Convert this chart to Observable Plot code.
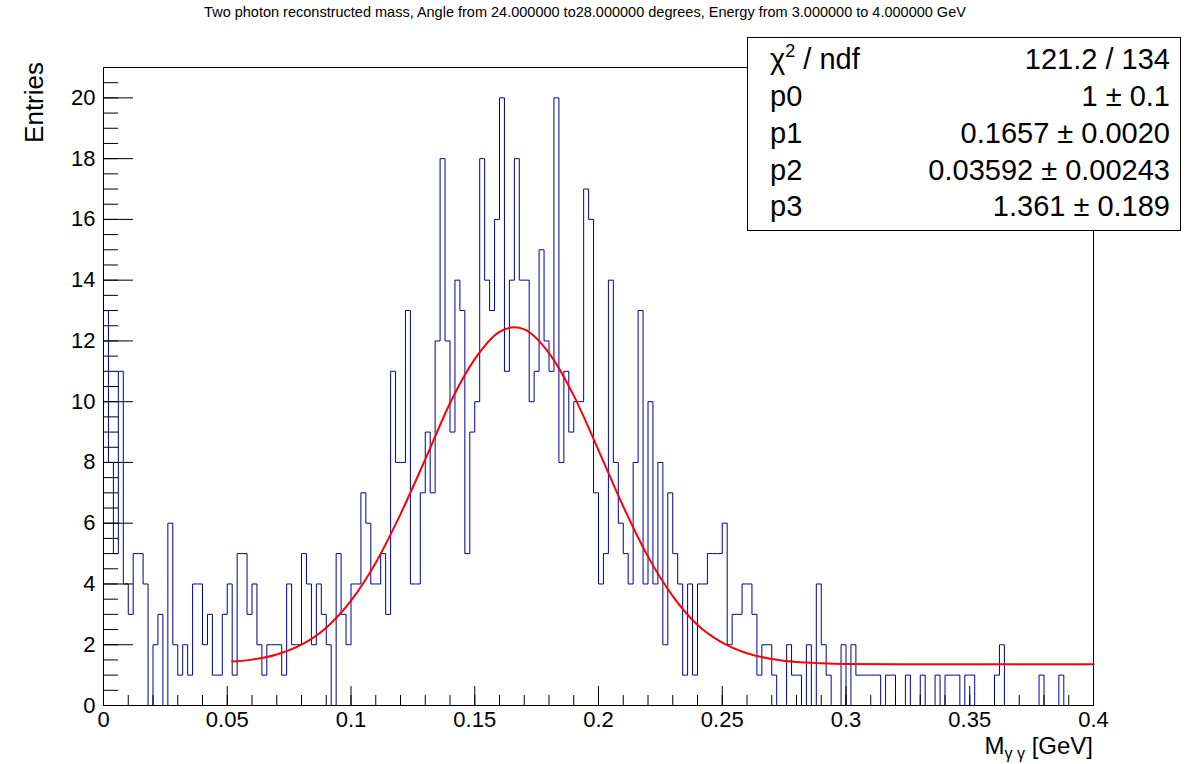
<!DOCTYPE html>
<html>
<head>
<meta charset="utf-8">
<script src="https://cdn.jsdelivr.net/npm/d3@7"></script>
<script src="https://cdn.jsdelivr.net/npm/@observablehq/plot@0.6"></script>
<style>
  html, body { margin: 0; padding: 0; background: #fff; }
  #chart { width: 1202px; height: 764px; }
  svg { display: block; }
</style>
</head>
<body>
<div id="chart"></div>
<script>
// ---- Data ----
const titleText = "Two photon reconstructed mass, Angle from 24.000000 to28.000000 degrees, Energy from 3.000000 to 4.000000 GeV";
const xAxisName = "M";
const xAxisSub = "γ γ";
const xAxisUnit = " [GeV]";
const yAxisName = "Entries";

// histogram: 200 bins of width 0.002 GeV from 0 to 0.4
const binStart = 0;
const binWidth = 0.002;
const counts = [
  13, 8, 5, 11, 4, 3, 5, 5, 4, 0,
  2, 3, 0, 6, 2, 1, 2, 1, 4, 4,
  2, 3, 1, 1, 3, 4, 1, 5, 5, 3,
  4, 2, 1, 2, 2, 2, 1, 4, 2, 2,
  5, 4, 2, 4, 3, 2, 0, 5, 3, 2,
  4, 4, 7, 6, 4, 4, 5, 3, 11, 8,
  8, 13, 4, 4, 7, 9, 7, 12, 18, 12,
  9, 14, 13, 5, 9, 10, 18, 14, 13, 16,
  20, 11, 14, 18, 14, 14, 10, 11, 15, 12,
  11, 20, 8, 11, 9, 10, 10, 17, 16, 7,
  4, 5, 14, 8, 6, 5, 4, 8, 13, 4,
  10, 4, 8, 2, 7, 5, 4, 1, 4, 1,
  4, 4, 5, 5, 5, 6, 2, 3, 3, 4,
  4, 3, 1, 2, 2, 1, 0, 0, 2, 1,
  1, 0, 2, 0, 4, 2, 1, 0, 0, 2,
  0, 2, 1, 1, 1, 1, 1, 0, 1, 1,
  0, 0, 1, 0, 0, 1, 0, 0, 1, 0,
  1, 1, 1, 0, 1, 1, 0, 0, 0, 0,
  1, 2, 0, 0, 0, 0, 0, 0, 0, 1,
  0, 0, 0, 1, 0, 0, 0, 0, 0, 0
];

// fitted curve
const fitX = [0.052, 0.06, 0.07, 0.08, 0.09, 0.10, 0.11, 0.12, 0.13, 0.14, 0.15, 0.16, 0.166, 0.17, 0.18, 0.19, 0.20, 0.21, 0.22, 0.23, 0.24, 0.25, 0.26, 0.27, 0.28, 0.29, 0.30, 0.32, 0.35, 0.40];
const fitY = [1.45, 1.51, 1.68, 2.0, 2.56, 3.45, 4.7, 6.3, 8.1, 9.95, 11.4, 12.3, 12.45, 12.38, 11.6, 10.2, 8.4, 6.55, 4.9, 3.6, 2.65, 2.07, 1.72, 1.53, 1.43, 1.39, 1.37, 1.36, 1.36, 1.36];

// tick labels
const xMajor = [0, 0.05, 0.1, 0.15, 0.2, 0.25, 0.3, 0.35, 0.4];
const xMajorLabels = ["0", "0.05", "0.1", "0.15", "0.2", "0.25", "0.3", "0.35", "0.4"];
const yMajor = [0, 2, 4, 6, 8, 10, 12, 14, 16, 18, 20];
const xMinorStep = 0.01;
const yMinorStep = 0.5;

// stats box
const statNames = ["p0", "p1", "p2", "p3"];
const statValues = ["1 ± 0.1", "0.1657 ± 0.0020", "0.03592 ± 0.00243", "1.361 ± 0.189"];
const chi2Value = "121.2 / 134";

// ---- Build tables ----
const nBins = counts.length;
const steps = [{x: binStart, y: 0}];
counts.forEach((c, i) => {
  steps.push({x: binStart + i * binWidth, y: c});
  steps.push({x: binStart + (i + 1) * binWidth, y: c});
});
steps.push({x: binStart + nBins * binWidth, y: 0});
const fit = fitX.map((x, i) => ({x, y: fitY[i]}));
const xMinor = d3.range(0, 40.5).map(i => i * xMinorStep);
const yMinor = d3.range(0, 42).map(i => i * yMinorStep);

const W = 1202, H = 764;
const mL = 103, mR = 109, mT = 67, mB = 59;
const fw = W - mL - mR, fh = H - mT - mB;
const font = "'Liberation Sans', Arial, Helvetica, sans-serif";

const chart = Plot.plot({
  width: W, height: H,
  marginLeft: mL, marginRight: mR, marginTop: mT, marginBottom: mB,
  style: {fontFamily: font, background: "#fff", color: "#000"},
  x: {domain: [0, 0.4]},
  y: {domain: [0, 21]},
  marks: [
    Plot.line(steps, {x: "x", y: "y", stroke: "#000099", strokeWidth: 1}),
    Plot.line(fit, {x: "x", y: "y", stroke: "#ff0000", strokeWidth: 2, curve: "monotone-x"}),
    Plot.tickX(xMinor, {x: d => d, insetTop: fh - 10, stroke: "#000"}),
    Plot.tickX(xMajor, {x: d => d, insetTop: fh - 19, stroke: "#000"}),
    Plot.tickY(yMinor, {y: d => d, insetRight: fw - 15, stroke: "#000"}),
    Plot.tickY(yMajor, {y: d => d, insetRight: fw - 30, stroke: "#000"}),
    Plot.axisX(xMajor, {tickSize: 0, tickPadding: 6, fontSize: 22, tickFormat: (d, i) => xMajorLabels[i], label: null}),
    Plot.axisY(yMajor, {tickSize: 0, tickPadding: 8, fontSize: 22, label: null}),
    Plot.frame({stroke: "#000"})
  ]
});
document.getElementById("chart").appendChild(chart);

// ---- Annotations (real SVG text) ----
const svg = d3.select(chart);
svg.append("text")
  .attr("x", 585).attr("y", 17)
  .attr("text-anchor", "middle")
  .attr("font-family", font).attr("font-size", 14.5).attr("fill", "#000")
  .text(titleText);

svg.append("text")
  .attr("transform", "translate(43,62) rotate(-90)")
  .attr("text-anchor", "end")
  .attr("font-family", font).attr("font-size", 26).attr("fill", "#000")
  .text(yAxisName);

const xl = svg.append("text")
  .attr("x", 1093).attr("y", 754)
  .attr("text-anchor", "end")
  .attr("font-family", font).attr("font-size", 24).attr("fill", "#000");
xl.append("tspan").text(xAxisName);
xl.append("tspan").attr("font-size", 16).attr("dy", 5).text(xAxisSub);
xl.append("tspan").attr("dy", -5).text(xAxisUnit);

// stats box
const g = svg.append("g");
g.append("rect").attr("x", 747.5).attr("y", 37.5).attr("width", 433).attr("height", 193)
  .attr("fill", "#fff").attr("stroke", "#000").attr("stroke-width", 1);
const rowY = [69, 106, 143, 180, 216];
const t0 = g.append("text").attr("x", 770).attr("y", rowY[0]).attr("text-anchor", "start")
  .attr("font-family", font).attr("font-size", 29).attr("fill", "#000");
t0.append("tspan").text("χ");
t0.append("tspan").attr("font-size", 18).attr("dy", -12).text("2");
t0.append("tspan").attr("dy", 12).text(" / ndf");
g.append("text").attr("x", 1170).attr("y", rowY[0]).attr("text-anchor", "end")
  .attr("font-family", font).attr("font-size", 29).attr("fill", "#000").text(chi2Value);
statNames.forEach((n, i) => {
  g.append("text").attr("x", 770).attr("y", rowY[i + 1]).attr("text-anchor", "start")
    .attr("font-family", font).attr("font-size", 29).attr("fill", "#000").text(n);
  g.append("text").attr("x", 1170).attr("y", rowY[i + 1]).attr("text-anchor", "end")
    .attr("font-family", font).attr("font-size", 29).attr("fill", "#000").text(statValues[i]);
});
</script>
</body>
</html>
